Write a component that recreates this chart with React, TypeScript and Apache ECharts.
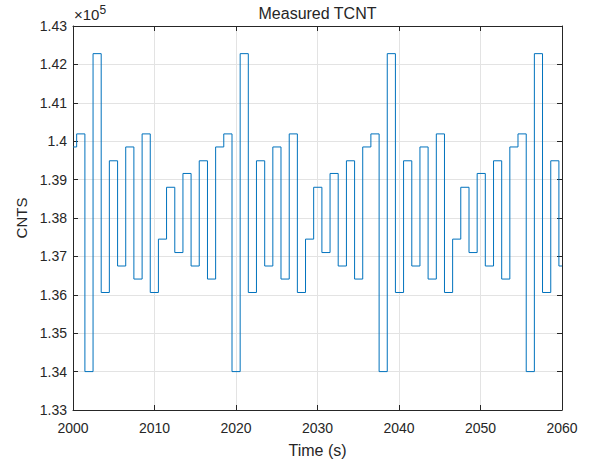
import React, { useEffect, useRef } from "react";
import * as echarts from "echarts";

// Sample times (s) at which the measured value changes
const times: number[] = [
  2000, 2000.45, 2001.46, 2002.46, 2003.46, 2004.46, 2005.47, 2006.47, 2007.47, 2008.48,
  2009.48, 2010.48, 2011.48, 2012.49, 2013.49, 2014.49, 2015.49, 2016.5, 2017.5, 2018.5,
  2019.51, 2020.51, 2021.51, 2022.51, 2023.52, 2024.52, 2025.52, 2026.53, 2027.53, 2028.53,
  2029.53, 2030.54, 2031.54, 2032.54, 2033.55, 2034.55, 2035.55, 2036.55, 2037.56, 2038.56,
  2039.56, 2040.56, 2041.57, 2042.57, 2043.57, 2044.58, 2045.58, 2046.58, 2047.58, 2048.59,
  2049.59, 2050.59, 2051.6, 2052.6, 2053.6, 2054.6, 2055.61, 2056.61, 2057.61, 2058.62,
  2059.62,
];

// Measured TCNT counts
const counts: number[] = [
  139850, 140190, 134000, 142280, 136060, 139490, 136750, 139850, 136410, 140190,
  136060, 137450, 138800, 137100, 139160, 136750, 139490, 136410,
  139850, 140190, 134000, 142280, 136060, 139490, 136750, 139850, 136410, 140190,
  136060, 137450, 138800, 137100, 139160, 136750, 139490, 136410,
  139850, 140190, 134000, 142280, 136060, 139490, 136750, 139850, 136410, 140190,
  136060, 137450, 138800, 137100, 139160, 136750, 139490, 136410,
  139850, 140190, 134000, 142280, 136060, 139490, 136750,
];

const xMin = 2000;
const xMax = 2060;
const xStep = 10;
const yMin = 133000;
const yMax = 143000;
const yStep = 1000;

const titleText = "Measured TCNT";
const xLabel = "Time (s)";
const yLabel = "CNTS";

export default function App() {
  const ref = useRef<HTMLDivElement>(null);

  useEffect(() => {
    if (!ref.current) return;
    const chart = echarts.init(ref.current, null, { renderer: "svg" });
    const data: [number, number][] = times.map((t, i) => [t, counts[i]]);
    data.push([xMax, counts[counts.length - 1]]);

    const font = "Arial, 'Liberation Sans', Helvetica, sans-serif";
    const axisColor = "#262626";
    const gridColor = "#e3e3e3";
    const fmtY = (v: number) => String(parseFloat((v / 1e5).toFixed(2)));
    const fmtX = (v: number) => String(Math.round(v));

    const gridL = 73;
    const gridT = 26;
    const gridR = 27;
    const gridB = 49;

    chart.setOption({
      animation: false,
      backgroundColor: "#ffffff",
      textStyle: { fontFamily: font },
      grid: { left: gridL, top: gridT, right: gridR, bottom: gridB, containLabel: false },
      xAxis: [
        {
          type: "value",
          min: xMin,
          max: xMax,
          interval: xStep,
          position: "bottom",
          name: xLabel,
          nameLocation: "middle",
          nameGap: 32,
          nameTextStyle: { fontSize: 16, color: axisColor, fontFamily: font },
          axisLine: { show: true, lineStyle: { color: axisColor, width: 1 } },
          axisTick: { show: true, inside: true, length: 5, lineStyle: { color: axisColor } },
          axisLabel: { fontSize: 14, color: axisColor, margin: 11, formatter: fmtX, fontFamily: font },
          splitLine: { show: true, lineStyle: { color: gridColor, width: 1 } },
        },
        {
          type: "value",
          min: xMin,
          max: xMax,
          interval: xStep,
          position: "top",
          axisLine: { show: true, onZero: false, lineStyle: { color: axisColor, width: 1 } },
          axisTick: { show: true, inside: true, length: 5, lineStyle: { color: axisColor } },
          axisLabel: { show: false },
          splitLine: { show: false },
        },
      ],
      yAxis: [
        {
          type: "value",
          min: yMin,
          max: yMax,
          interval: yStep,
          position: "left",
          name: yLabel,
          nameLocation: "middle",
          nameGap: 43,
          nameRotate: 90,
          nameTextStyle: { fontSize: 15, color: axisColor, fontFamily: font },
          axisLine: { show: true, onZero: false, lineStyle: { color: axisColor, width: 1 } },
          axisTick: { show: true, inside: true, length: 5, lineStyle: { color: axisColor } },
          axisLabel: { fontSize: 14, color: axisColor, margin: 6, formatter: fmtY, fontFamily: font },
          splitLine: { show: true, lineStyle: { color: gridColor, width: 1 } },
        },
        {
          type: "value",
          min: yMin,
          max: yMax,
          interval: yStep,
          position: "right",
          axisLine: { show: true, onZero: false, lineStyle: { color: axisColor, width: 1 } },
          axisTick: { show: true, inside: true, length: 5, lineStyle: { color: axisColor } },
          axisLabel: { show: false },
          splitLine: { show: false },
        },
      ],
      graphic: [
        {
          type: "text",
          x: (gridL + (589 - gridR)) / 2,
          y: 13,
          style: {
            text: titleText,
            fontSize: 16,
            fontFamily: font,
            fill: axisColor,
            textAlign: "center",
            textVerticalAlign: "middle",
          },
        },
        {
          type: "text",
          x: 74,
          y: 24,
          style: {
            text: "×10{sup|5}",
            fontSize: 15,
            fontFamily: font,
            fill: axisColor,
            textAlign: "left",
            textVerticalAlign: "bottom",
            rich: {
              sup: { fontSize: 12, fontFamily: font, fill: axisColor, padding: [0, 0, 8, 0] },
            },
          },
        },
      ],
      series: [
        {
          type: "line",
          xAxisIndex: 0,
          yAxisIndex: 0,
          step: "end",
          showSymbol: false,
          symbol: "none",
          clip: true,
          data,
          lineStyle: { color: "#0072BD", width: 1 },
        },
      ],
    });

    return () => {
      chart.dispose();
    };
  }, []);

  return (
    <div
      ref={ref}
      style={{ position: "fixed", left: 0, top: 0, width: 589, height: 463 }}
    />
  );
}
